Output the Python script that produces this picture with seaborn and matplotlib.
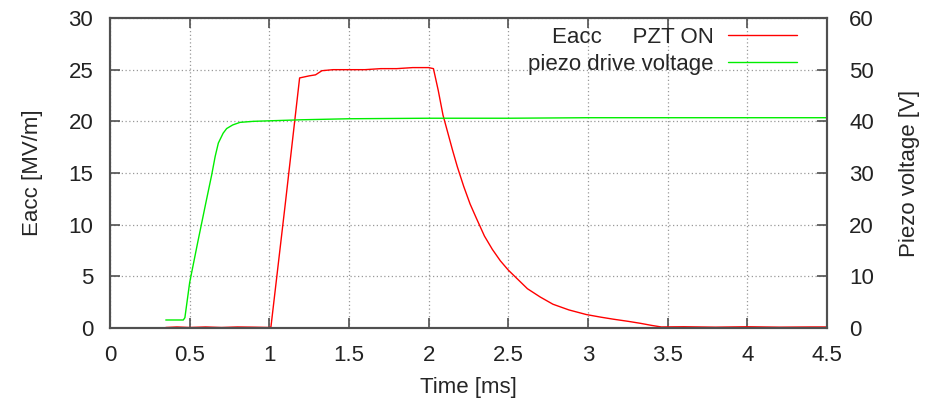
import matplotlib
matplotlib.use("Agg")
import matplotlib.pyplot as plt
import seaborn as sns
import pandas as pd

# ---- data (time in ms) ----
eacc_time = [0.35, 0.42, 0.50, 0.60, 0.70, 0.80, 0.90, 1.00, 1.01,
             1.10, 1.19, 1.22, 1.25, 1.29, 1.31, 1.33, 1.40, 1.50, 1.60,
             1.70, 1.80, 1.90, 2.00, 2.03, 2.06, 2.09, 2.12, 2.15, 2.18,
             2.22, 2.26, 2.30, 2.35, 2.40, 2.45, 2.50, 2.56, 2.62, 2.70,
             2.78, 2.88, 2.99, 3.08, 3.16, 3.25, 3.33, 3.40, 3.46, 3.60,
             3.80, 4.00, 4.20, 4.40, 4.50]
eacc_values = [0.05, 0.10, 0.05, 0.10, 0.05, 0.10, 0.08, 0.05, 0.10,
               12.0, 24.2, 24.3, 24.4, 24.5, 24.7, 24.9, 25.0, 25.0, 25.0,
               25.1, 25.1, 25.2, 25.2, 25.1, 23.0, 20.6, 18.9, 17.2, 15.6,
               13.7, 12.0, 10.6, 8.9, 7.6, 6.5, 5.6, 4.7, 3.8, 3.0,
               2.3, 1.75, 1.3, 1.05, 0.85, 0.65, 0.45, 0.25, 0.10, 0.12,
               0.08, 0.12, 0.08, 0.10, 0.10]

piezo_time = [0.35, 0.40, 0.46, 0.47, 0.50, 0.55, 0.60, 0.638, 0.66,
              0.68, 0.71, 0.732, 0.77, 0.816, 0.90, 1.00, 1.20, 1.50,
              2.00, 2.50, 3.00, 3.50, 4.00, 4.50]
piezo_values = [1.55, 1.55, 1.55, 2.0, 8.8, 16.5, 24.0, 29.6, 33.2,
                35.8, 37.7, 38.6, 39.3, 39.8, 40.0, 40.1, 40.3, 40.5,
                40.6, 40.6, 40.7, 40.7, 40.7, 40.7]

x_ticks = [0, 0.5, 1, 1.5, 2, 2.5, 3, 3.5, 4, 4.5]
x_tick_labels = ["0", "0.5", "1", "1.5", "2", "2.5", "3", "3.5", "4", "4.5"]
left_ticks = [0, 5, 10, 15, 20, 25, 30]
right_ticks = [0, 10, 20, 30, 40, 50, 60]

eacc_label = "Eacc     PZT ON"
piezo_label = "piezo drive voltage"

# ---- styling ----
sns.set_theme(style="white")
plt.rcParams['font.family'] = ['Liberation Sans', 'DejaVu Sans']
FS = 16
frame_color = "#505050"

fig = plt.figure(figsize=(9.34, 4.07), dpi=100)
ax = fig.add_axes([110 / 934, 79 / 407, 717 / 934, 310 / 407])
ax2 = ax.twinx()

df_e = pd.DataFrame({"t": eacc_time, "v": eacc_values})
df_p = pd.DataFrame({"t": piezo_time, "v": piezo_values})

sns.lineplot(data=df_e, x="t", y="v", ax=ax, color="#ff0000", linewidth=1.0,
             estimator=None, sort=False, label=eacc_label)
sns.lineplot(data=df_p, x="t", y="v", ax=ax2, color="#00ee00", linewidth=1.0,
             estimator=None, sort=False, label=piezo_label)

h1, l1 = ax.get_legend_handles_labels()
h2, l2 = ax2.get_legend_handles_labels()
for a in (ax, ax2):
    if a.get_legend() is not None:
        a.get_legend().remove()

ax.set_xlim(0, 4.5)
ax.set_ylim(0, 30)
ax2.set_ylim(0, 60)
ax.set_xticks(x_ticks)
ax.set_xticklabels(x_tick_labels)
ax.set_yticks(left_ticks)
ax2.set_yticks(right_ticks)

ax.set_xlabel("Time [ms]", fontsize=FS, labelpad=8)
ax.set_ylabel("Eacc [MV/m]", fontsize=FS, labelpad=18)
ax2.set_ylabel("Piezo voltage [V]", fontsize=FS, labelpad=18)

ax.grid(True, color="#999999", linestyle=(0, (1, 2)), linewidth=0.9)
ax2.grid(False)

ax.tick_params(axis="x", direction="in", length=7, width=1.2, color=frame_color,
               top=True, bottom=True, labelsize=FS, pad=12, labelcolor="#222222")
ax.tick_params(axis="y", direction="in", length=7, width=1.2, color=frame_color,
               left=True, right=False, labelsize=FS, pad=12, labelcolor="#222222")
ax2.tick_params(axis="y", direction="in", length=7, width=1.2, color=frame_color,
                right=True, left=False, labelsize=FS, pad=16, labelcolor="#222222")

for a in (ax, ax2):
    for s in a.spines.values():
        s.set_color(frame_color)
        s.set_linewidth(1.5)

leg = ax2.legend(h1 + h2, l1 + l2, loc="upper right",
                 bbox_to_anchor=(1 - 30 / 717, 1 - 9 / 310),
                 frameon=False, markerfirst=False, fontsize=FS,
                 handlelength=3.1, handletextpad=0.65, labelspacing=0.25,
                 borderpad=0, borderaxespad=0)

fig.savefig("out.png", dpi=100)
